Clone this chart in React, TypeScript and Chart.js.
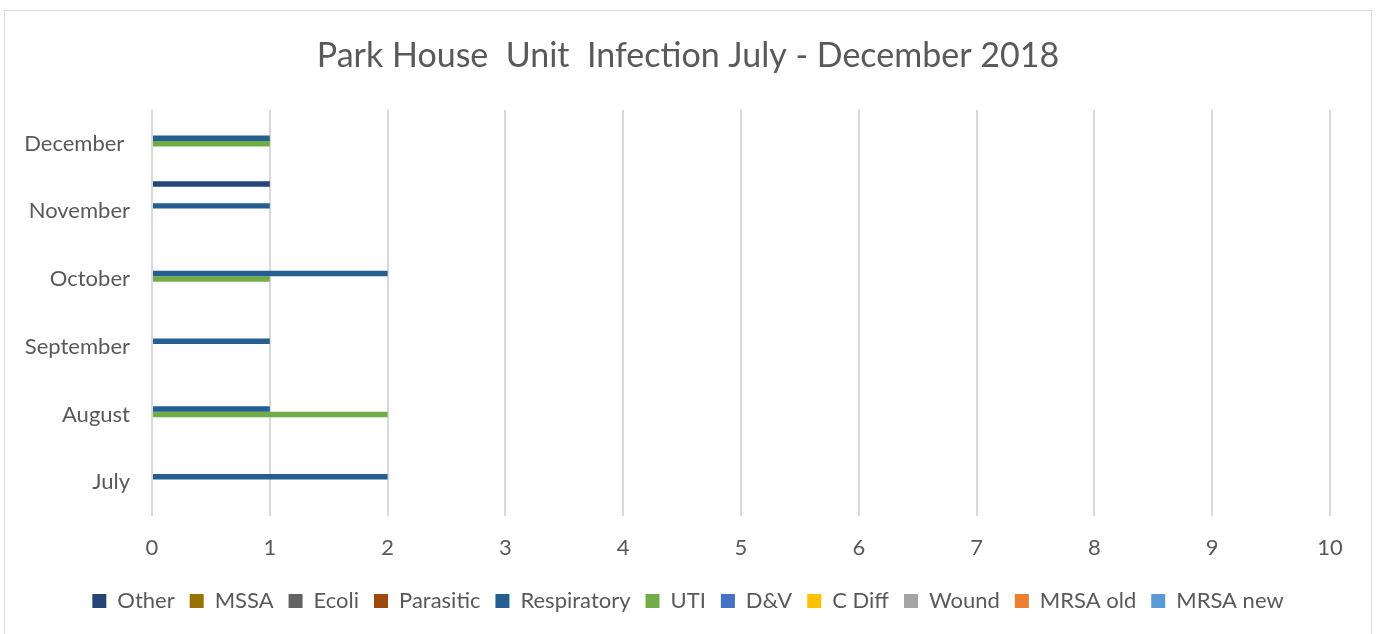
import React, { useEffect, useRef } from "react";
import { Chart, registerables } from "chart.js";

Chart.register(...registerables);

// Categories bottom-to-top as in the reference (July at bottom)
const months = ["July", "August", "September", "October", "November", "December "];

const seriesNames = ["Other", "MSSA", "Ecoli", "Parasitic", "Respiratory", "UTI", "D&V", "C Diff", "Wound", "MRSA old", "MRSA new"];
const seriesColors = ["#264478", "#997300", "#636363", "#9E480E", "#255E91", "#70AD47", "#4472C4", "#FFC000", "#A5A5A5", "#ED7D31", "#5B9BD5"];

// values per month, July..December
const other = [0, 0, 0, 0, 1, 0];
const mssa = [0, 0, 0, 0, 0, 0];
const ecoli = [0, 0, 0, 0, 0, 0];
const parasitic = [0, 0, 0, 0, 0, 0];
const respiratory = [2, 1, 1, 2, 1, 1];
const uti = [0, 2, 0, 1, 0, 1];
const dv = [0, 0, 0, 0, 0, 0];
const cdiff = [0, 0, 0, 0, 0, 0];
const wound = [0, 0, 0, 0, 0, 0];
const mrsaOld = [0, 0, 0, 0, 0, 0];
const mrsaNew = [0, 0, 0, 0, 0, 0];

const seriesValues = [other, mssa, ecoli, parasitic, respiratory, uti, dv, cdiff, wound, mrsaOld, mrsaNew];

const xTicks = [0, 1, 2, 3, 4, 5, 6, 7, 8, 9, 10];

const titleText = "Park House  Unit  Infection July - December 2018";
const FONT = "Lato";
const TEXT = "#595959";

// centre title and legend on the whole canvas (as Excel does)
const centreBlocks = {
  id: "centreBlocks",
  afterLayout(chart: any) {
    for (const block of [chart.titleBlock, chart.legend]) {
      if (block) {
        block.left = 0;
        block.right = chart.width;
      }
    }
  },
};

export default function App() {
  const ref = useRef<HTMLCanvasElement | null>(null);

  useEffect(() => {
    document.body.style.margin = "0";
    const canvas = ref.current;
    if (!canvas) return;
    Chart.defaults.font.family = FONT;
    Chart.defaults.color = TEXT;
    const labels = [...months].reverse();
    const chart = new Chart(canvas, {
      type: "bar",
      data: {
        labels,
        datasets: seriesNames.map((name, i) => ({
          label: name,
          data: [...seriesValues[i]].reverse(),
          backgroundColor: seriesColors[i],
          borderWidth: 0,
          barPercentage: 1,
          categoryPercentage: 0.887,
        })),
      },
      plugins: [centreBlocks],
      options: {
        indexAxis: "y",
        animation: false,
        responsive: false,
        maintainAspectRatio: false,
        layout: { padding: { left: 0, right: 46, top: 0, bottom: 12 } },
        plugins: {
          title: {
            display: true,
            text: titleText,
            color: TEXT,
            font: { size: 34, weight: "normal", family: FONT },
            padding: { top: 36, bottom: 33 },
          },
          legend: {
            position: "bottom",
            labels: {
              color: TEXT,
              font: { size: 22, family: FONT },
              boxWidth: 14,
              boxHeight: 14,
              padding: 15,
            },
          },
          tooltip: { enabled: false },
        },
        scales: {
          x: {
            min: 0,
            max: 10,
            afterBuildTicks: (scale: any) => {
              scale.ticks = xTicks.map((v) => ({ value: v }));
            },
            afterFit: (scale: any) => {
              scale.height = 59;
            },
            ticks: { color: TEXT, font: { size: 22, family: FONT }, padding: 19 },
            grid: { color: "#d9d9d9", lineWidth: 2, drawTicks: false },
            border: { display: false },
          },
          y: {
            afterFit: (scale: any) => {
              scale.width = 152;
            },
            ticks: { color: TEXT, font: { size: 22, family: FONT }, padding: 22 },
            grid: { display: false, drawTicks: false },
            border: { display: false },
          },
        },
      },
    });
    return () => chart.destroy();
  }, []);

  return (
    <div style={{ position: "relative", width: 1376, height: 634, overflow: "hidden", background: "#fff" }}>
      <div
        style={{
          position: "absolute",
          left: 4,
          top: 10,
          width: 1368,
          height: 640,
          border: "1.5px solid #d9d9d9",
          boxSizing: "border-box",
        }}
      />
      <canvas ref={ref} width={1376} height={634} style={{ position: "absolute", left: 0, top: 0 }} />
    </div>
  );
}
